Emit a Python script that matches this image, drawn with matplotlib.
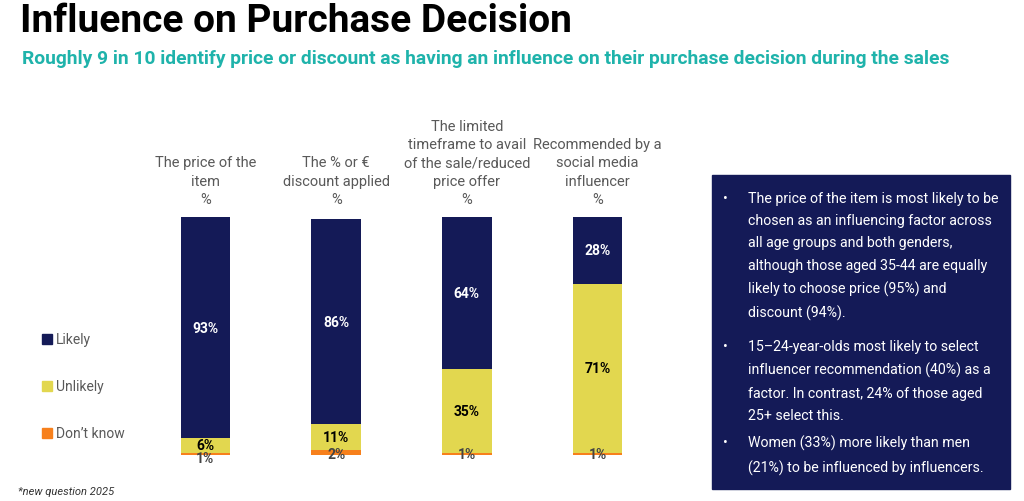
import matplotlib.pyplot as plt
import matplotlib.patches as patches
import numpy as np

categories = ["The price of the\nitem\n%",
              "The % or \u20ac\ndiscount applied\n%",
              "The limited\ntimeframe to avail\nof the sale/reduced\nprice offer\n%",
              "Recommended by a\nsocial media\ninfluencer\n%"]
likely = [93, 86, 64, 28]
unlikely = [6, 11, 35, 71]
dont_know = [1, 2, 1, 1]
series_names = ["Likely", "Unlikely", "Don\u2019t know"]

notes = [
    "The price of the item is most likely to be\nchosen as an influencing factor across\nall age groups and both genders,\nalthough those aged 35-44 are equally\nlikely to choose price (95%) and\ndiscount (94%).",
    "15\u201324-year-olds most likely to select\ninfluencer recommendation (40%) as a\nfactor. In contrast, 24% of those aged\n25+ select this.",
    "Women (33%) more likely than men\n(21%) to be influenced by influencers.",
]

navy = "#141a57"
yellow = "#e2d74f"
orange = "#f7801c"
teal = "#1fb3ab"
grey = "#595959"

plt.rcParams['font.family'] = ['Roboto', 'DejaVu Sans']

fig = plt.figure(figsize=(10.24, 5.02), dpi=100)
W, H = 1024, 502

ax = fig.add_axes([140 / W, 1 - 456 / H, 523 / W, 238 / H])
x = np.arange(len(categories))
w = 0.38
ax.bar(x, dont_know, w, color=orange)
ax.bar(x, unlikely, w, bottom=dont_know, color=yellow)
bottom3 = np.array(dont_know) + np.array(unlikely)
ax.bar(x, likely, w, bottom=bottom3, color=navy)
ax.set_xlim(-0.5, 3.5)
ax.set_ylim(0, 100)
ax.axis('off')

for i in range(len(categories)):
    ax.text(x[i], bottom3[i] + likely[i] / 2, f"{likely[i]}%", ha='center', va='center',
            color='white', fontsize=10, fontweight='bold')
    ax.text(x[i], dont_know[i] + unlikely[i] / 2, f"{unlikely[i]}%", ha='center', va='center',
            color='black', fontsize=10, fontweight='bold')
    ax.text(x[i], -1.2 if i == 0 else 0.3, f"{dont_know[i]}%", ha='center', va='center',
            color='#444444', fontsize=10, fontweight='bold')
    ax.text(x[i], 104.5, categories[i], ha='center', va='bottom', color=grey,
            fontsize=10.5, linespacing=1.4)

# legend
leg_y = [340, 387, 434]
leg_colors = [navy, yellow, orange]
for name, c, yy in zip(series_names, leg_colors, leg_y):
    fig.patches.append(patches.Rectangle((42 / W, 1 - (yy + 5) / H), 10 / W, 10 / H,
                                         transform=fig.transFigure, color=c))
    fig.text(56 / W, 1 - yy / H, name, ha='left', va='center', color=grey, fontsize=10)

# titles
fig.text(20 / W, 1 - 22 / H, "Influence on Purchase Decision", ha='left', va='center',
         fontsize=28, fontweight='bold', color='black')
fig.text(22 / W, 1 - 59 / H,
         "Roughly 9 in 10 identify price or discount as having an influence on their purchase decision during the sales",
         ha='left', va='center', fontsize=13.9, fontweight='bold', color=teal)
fig.text(18 / W, 1 - 492 / H, "*new question 2025", ha='left', va='center',
         fontsize=8, style='italic', color='#333333')

# notes box
fig.patches.append(patches.Rectangle((712 / W, 1 - 490 / H), 298 / W, 314 / H,
                                     transform=fig.transFigure, color=navy))
note_y = [192, 340, 436]
for t, yy in zip(notes, note_y):
    fig.text(723 / W, 1 - yy / H, "\u2022", ha='left', va='top', color='white', fontsize=10)
    fig.text(748 / W, 1 - yy / H, t, ha='left', va='top', color='white', fontsize=10.2,
             linespacing=1.75)

fig.savefig("out.png", dpi=100)
